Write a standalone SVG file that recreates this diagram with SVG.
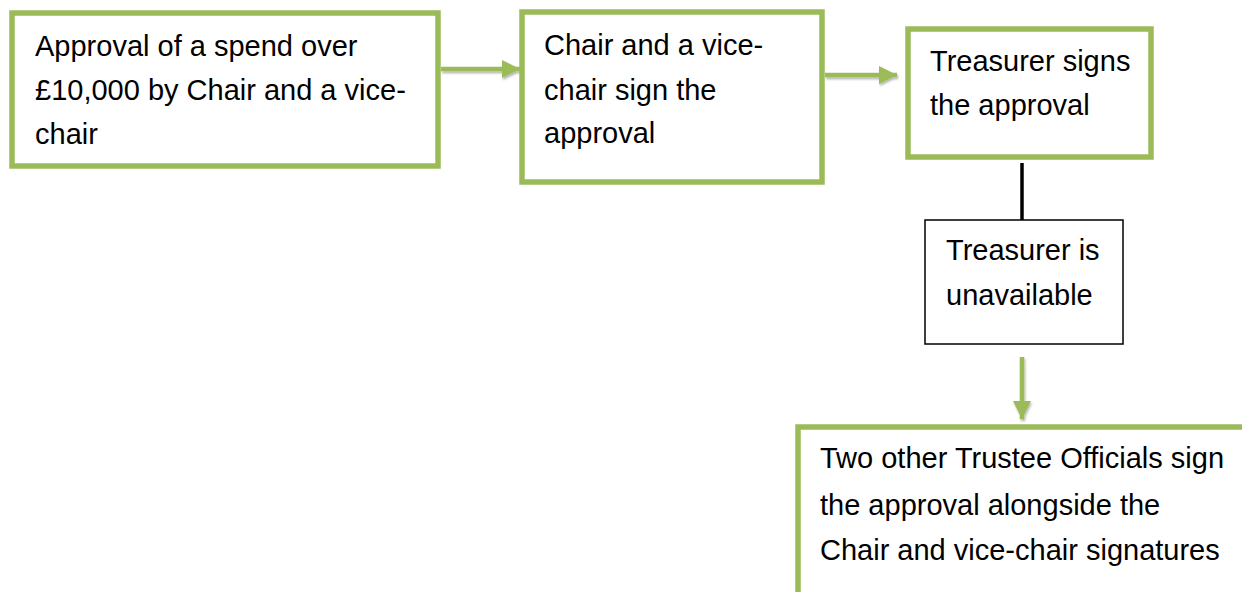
<svg xmlns="http://www.w3.org/2000/svg" width="1242" height="592" viewBox="0 0 1242 592">
<style>
.g{fill:#fff;stroke:#9BBB59;stroke-width:5.5}
.b{fill:#fff;stroke:#000;stroke-width:1.5}
.t{font-family:"Liberation Sans",Arial,sans-serif;font-size:29px;fill:#000}
.a{stroke:#9BBB59;stroke-width:4.5;fill:none}
</style>
<defs>
<marker id="ah" viewBox="0 0 10 10" refX="10" refY="5" markerWidth="4" markerHeight="4" markerUnits="strokeWidth" orient="auto">
<path d="M0,0 L10,5 L0,10 z" fill="#9BBB59"/>
</marker>
<filter id="sh" filterUnits="userSpaceOnUse" x="0" y="0" width="1242" height="592">
<feDropShadow dx="1" dy="2" stdDeviation="1.2" flood-color="#000" flood-opacity="0.3"/>
</filter>
</defs>
<g id="connectors">
<g filter="url(#sh)">
<line class="a" x1="441" y1="69" x2="520" y2="69" marker-end="url(#ah)"/>
<line class="a" x1="825" y1="75" x2="897" y2="75" marker-end="url(#ah)"/>
<line class="a" x1="1022" y1="357" x2="1022" y2="419" marker-end="url(#ah)"/>
</g>
<line x1="1022" y1="163" x2="1022" y2="220" stroke="#000" stroke-width="3.5"/>
</g>
<g id="n1">
<rect class="g" x="12" y="13" width="426" height="153"/>
<text class="t" x="35" y="56">Approval of a spend over</text>
<text class="t" x="35" y="100">£10,000 by Chair and a vice-</text>
<text class="t" x="35" y="144">chair</text>
</g>
<g id="n2">
<rect class="g" x="522" y="12" width="300" height="170"/>
<text class="t" x="544" y="55">Chair and a vice-</text>
<text class="t" x="544" y="100">chair sign the</text>
<text class="t" x="544" y="143">approval</text>
</g>
<g id="n3">
<rect class="g" x="908" y="29" width="243" height="128"/>
<text class="t" x="930" y="71">Treasurer signs</text>
<text class="t" x="930" y="115">the approval</text>
</g>
<g id="n4">
<rect class="b" x="925" y="220" width="198" height="124"/>
<text class="t" x="946" y="260">Treasurer is</text>
<text class="t" x="946" y="305">unavailable</text>
</g>
<g id="n5">
<rect class="g" x="798" y="427" width="460" height="180"/>
<text class="t" x="820" y="468">Two other Trustee Officials sign</text>
<text class="t" x="820" y="515">the approval alongside the</text>
<text class="t" x="820" y="560">Chair and vice-chair signatures</text>
</g>
</svg>
